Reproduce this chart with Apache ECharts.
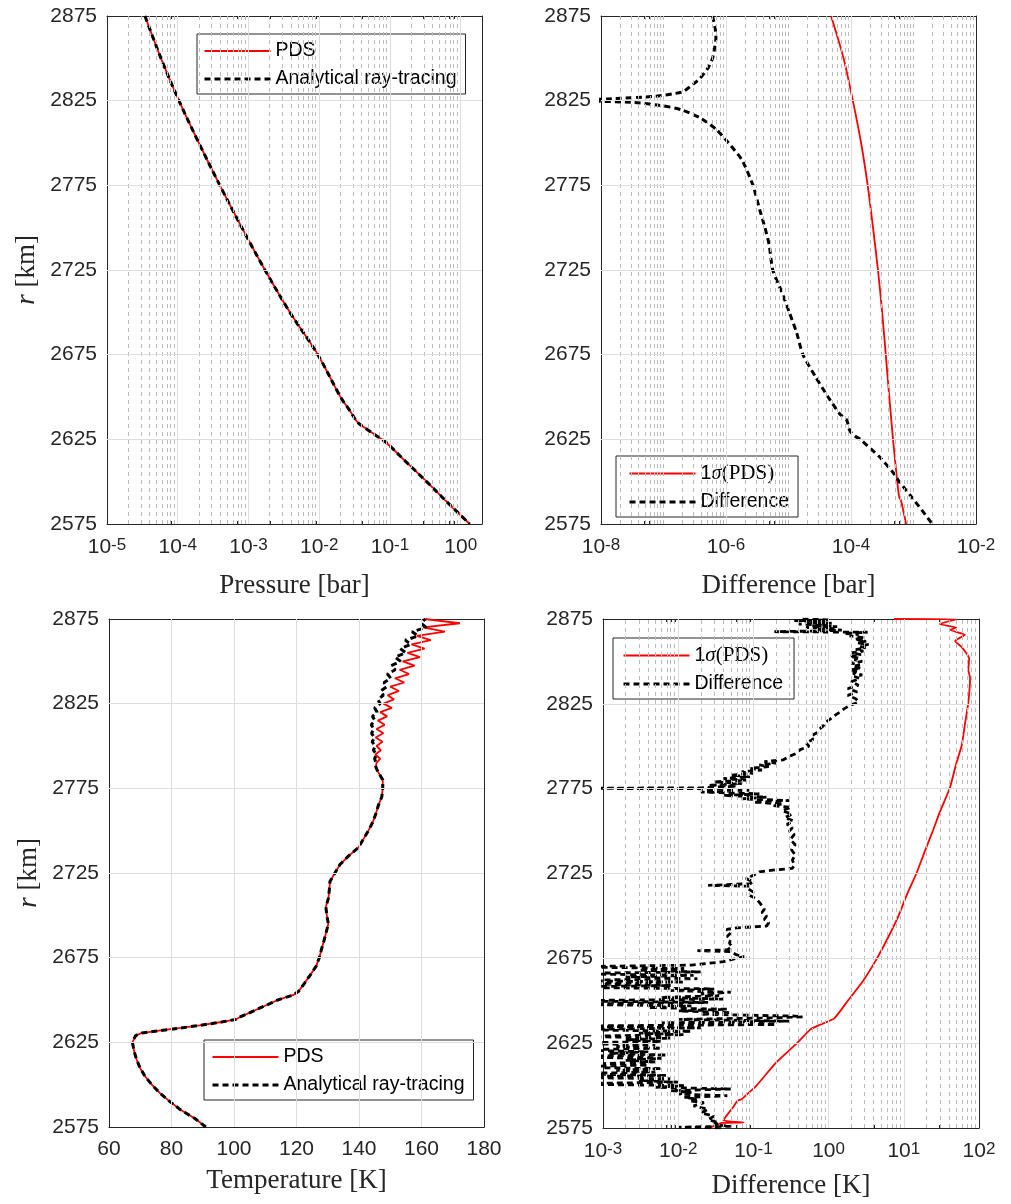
<!DOCTYPE html>
<html><head><meta charset="utf-8">
<script src="https://cdn.jsdelivr.net/npm/echarts@6/dist/echarts.min.js"></script>
<style>html,body{margin:0;padding:0;background:#fff}#c{width:1011px;height:1204px}</style>
</head><body><div id="c"></div><script>
// ---------------- tick values ----------------
const rTicks = [2575, 2625, 2675, 2725, 2775, 2825, 2875];
const pressureTicks = [1e-5, 1e-4, 1e-3, 1e-2, 1e-1, 1];
const diffBarTicks = [1e-8, 1e-6, 1e-4, 1e-2];
const tempTicks = [60, 80, 100, 120, 140, 160, 180];
const diffKTicks = [1e-3, 1e-2, 1e-1, 1, 10, 100];

// ---------------- data: [value, r(km)] ----------------
const pressurePDS = [[3.44e-5,2875],[5.8e-5,2850],[1.04e-4,2825],[1.99e-4,2800],[3.94e-4,2775],[8.07e-4,2750],[1.71e-3,2725],[3.85e-3,2700],[9.55e-3,2675],[0.020,2650],[0.027,2642],[0.035,2635],[0.047,2631],[0.065,2627],[0.089,2623],[0.166,2612],[0.33,2600],[0.64,2588],[1.34,2575]];
const pressureRay = [[3.44e-5,2875],[5.8e-5,2850],[1.04e-4,2825],[1.99e-4,2800],[3.94e-4,2775],[8.07e-4,2750],[1.71e-3,2725],[3.85e-3,2700],[9.55e-3,2675],[0.020,2650],[0.027,2642],[0.035,2635],[0.047,2631],[0.065,2627],[0.089,2623],[0.166,2612],[0.33,2600],[0.64,2588],[1.34,2575]];

const sigmaBar = [[4.8e-5,2875],[7.6e-5,2850],[1.07e-4,2825],[1.45e-4,2800],[1.85e-4,2775],[2.25e-4,2750],[2.7e-4,2725],[3.15e-4,2700],[3.6e-4,2675],[4.1e-4,2650],[4.7e-4,2625],[5.5e-4,2600],[5.9e-4,2591],[6.3e-4,2589],[7.6e-4,2575]];
const diffBar = [[6.1e-7,2875],[6.7e-7,2868],[6.9e-7,2862],[6.5e-7,2855],[6.1e-7,2850],[5.2e-7,2844.5],[3.8e-7,2838],[2.6e-7,2833],[1.95e-7,2830],[6.8e-8,2827.5],[1.3e-8,2826],[3e-9,2825.2],[3.2e-8,2824],[9.8e-8,2822],[1.95e-7,2819.6],[3.8e-7,2815],[7e-7,2808],[1.1e-6,2800],[1.8e-6,2790],[2.7e-6,2775],[3.5e-6,2760],[4.2e-6,2750],[4.9e-6,2740],[5.6e-6,2725],[7.8e-6,2712],[1.03e-5,2700],[1.35e-5,2688],[1.7e-5,2675],[2.7e-5,2662],[4.3e-5,2650],[6.6e-5,2640],[8.5e-5,2636.5],[9.6e-5,2630],[1.15e-4,2627],[1.4e-4,2625],[2.8e-4,2615],[4.8e-4,2605],[5.9e-4,2600],[9.8e-4,2590],[2.0e-3,2575]];

const tempPDS = [[91.0,2575],[87.5,2580],[83.0,2585],[79.5,2590],[76.3,2595],[73.7,2600],[71.5,2605],[69.9,2610],[68.8,2615],[68.0,2620],[67.5,2625],[68.5,2629],[70.5,2630.5],[76.5,2632],[83.0,2633.5],[89.0,2635],[96.0,2637],[100.5,2638.5],[102.0,2640],[108.0,2645],[114.0,2650],[119.0,2653],[120.6,2655],[122.6,2660],[124.5,2665],[126.3,2670],[127.3,2675],[128.0,2680],[128.8,2685],[129.5,2690],[130.2,2695],[129.7,2700],[129.4,2705],[130.2,2710],[130.5,2715],[130.7,2720],[132.3,2725],[133.9,2730],[136.6,2735],[139.8,2740],[141.4,2745],[143.0,2750],[144.4,2755],[145.4,2760],[146.2,2765],[147.3,2770],[147.6,2775],[147.6,2780],[146.0,2785],[145.4,2787.5],
 [145.6,2790],[146.8,2792.5],[145.2,2795],[147.0,2797.5],[145.6,2800],[147.5,2802.5],[145.3,2805],[147.8,2807.5],[145.6,2810],[148.2,2812.5],[146.0,2815],[149.0,2817.5],[146.8,2820],[150.5,2822.5],[147.8,2825],[151.2,2827.5],[149.2,2830],[152.8,2832.5],[150.0,2835],[154.5,2837.5],[151.5,2840],[156.0,2842.5],[153.0,2845],[157.8,2847.5],[154.0,2850],[159.5,2852.5],[155.5,2855],[161.0,2857.5],[156.8,2860],[163.0,2862.5],[158.5,2865],[167.5,2867.5],[160.5,2870],[172.3,2872.5],[161.0,2875]];
const tempRay = [[91.0,2575],[87.5,2580],[83.0,2585],[79.5,2590],[76.3,2595],[73.7,2600],[71.5,2605],[69.9,2610],[68.8,2615],[68.0,2620],[67.5,2625],[68.5,2629],[70.5,2630.5],[76.5,2632],[83.0,2633.5],[89.0,2635],[96.0,2637],[100.5,2638.5],[102.0,2640],[108.0,2645],[114.0,2650],[119.0,2653],[120.6,2655],[122.6,2660],[124.5,2665],[126.3,2670],[127.3,2675],[128.0,2680],[128.8,2685],[129.5,2690],[130.2,2695],[129.7,2700],[129.4,2705],[130.2,2710],[130.5,2715],[130.7,2720],[132.3,2725],[133.9,2730],[136.6,2735],[139.8,2740],[141.4,2745],[143.0,2750],[144.4,2755],[145.4,2760],[146.2,2765],[147.3,2770],[147.6,2775],[147.6,2780],[146.0,2785],[145.4,2787.5],
 [145.4,2790],[145.0,2792.5],[145.6,2795],[144.6,2797.5],[145.2,2800],[144.2,2802.5],[145.0,2805],[144.0,2807.5],[144.8,2810],[143.9,2812.5],[145.1,2815],[144.3,2817.5],[145.8,2820],[145.0,2822.5],[146.8,2825],[146.0,2827.5],[147.8,2830],[146.9,2832.5],[148.9,2835],[148.0,2837.5],[150.2,2840],[149.1,2842.5],[151.6,2845],[150.3,2847.5],[153.3,2850],[151.5,2852.5],[155.0,2855],[153.2,2857.5],[156.6,2860],[154.8,2862.5],[158.9,2865],[157.0,2867.5],[161.5,2870],[159.8,2872.5],[161.2,2875]];

const sigmaK = [[0.026,2575],[0.038,2578],[0.074,2578.3],[0.040,2579.5],[0.047,2584],[0.055,2588],[0.061,2591],[0.070,2592],[0.085,2595.4],[0.11,2600],[0.20,2613.5],[0.38,2625],[0.57,2633],[0.78,2636],[1.19,2639.6],[1.8,2650],[2.9,2662],[4.4,2675],[6.3,2688],[8.5,2700],[11.1,2713],[14.7,2725],[19,2738],[24.5,2750.5],[30,2761],[41,2775.5],[50,2790],[59,2800.6],[65,2813],[72,2825.6],[76,2840.3],[72,2845],[74,2851.6],[59,2858.4],[48,2862],[65,2865.7],[41,2868.6],[50,2870],[30,2872],[50,2874.8],[7.4,2875]];
const diffK = [[0.45,2875],[1.0,2874.5],[0.35,2874],[0.9,2873.5],[0.55,2873],[1.1,2872.5],[0.4,2872],[0.95,2871.5],[0.6,2871],[1.3,2870.5],[0.5,2870],[1.2,2869.5],[0.7,2869],[1.5,2868.5],[0.8,2868],[0.19,2867.5],[3.3,2867.2],[1.6,2866.5],[2.5,2866],[1.9,2865],[3.0,2864],[2.2,2863],[3.2,2862],[2.4,2861],[3.4,2860],[2.6,2859],[3.1,2858],[2.3,2857],[2.9,2856],[2.0,2855],[2.7,2854],[1.9,2853],[2.6,2852],[2.2,2851],[2.8,2850],[2.0,2849],[2.6,2848],[2.1,2847],[2.7,2846],[1.9,2845],[2.5,2844],[2.1,2843],[2.8,2842],[2.2,2841],[2.6,2840],[2.0,2838],[2.5,2836],[1.8,2834],[2.4,2832],[1.8,2830],[2.3,2828],[2.5,2826],[1.9,2824],[1.6,2822],[1.4,2820],[1.2,2818],[1.05,2816],[0.9,2814],[0.85,2812],[0.75,2810],[0.7,2808],[0.58,2806],[0.62,2804],[0.5,2802],[0.55,2800],[0.42,2798],[0.38,2796],[0.3,2794],[0.25,2792],[0.14,2791],[0.2,2790],[0.12,2789],[0.16,2788],[0.09,2787],[0.13,2786],[0.07,2785],[0.1,2784],[0.05,2783],[0.09,2782],[0.04,2781],[0.08,2780],[0.03,2779],[0.07,2778],[0.025,2777],[0.06,2776.5],[0.02,2775.5],[0.0002,2775.2],[0.017,2775],[0.09,2774],[0.02,2773],[0.12,2772],[0.04,2771],[0.15,2770],[0.07,2769],[0.3,2768],[0.1,2767],[0.25,2766],[0.18,2765],[0.32,2764],[0.24,2762],[0.33,2760],[0.26,2758],[0.34,2756],[0.28,2754],[0.33,2752],[0.3,2750],[0.35,2748],[0.31,2745],[0.36,2742],[0.32,2739],[0.36,2736],[0.33,2733],[0.35,2730],[0.33,2728],[0.18,2727],[0.12,2726],[0.1,2724],[0.08,2722],[0.1,2720],[0.09,2719],[0.025,2718],[0.09,2717.5],[0.085,2716],[0.1,2714],[0.09,2712],[0.11,2710],[0.12,2708],[0.13,2706],[0.14,2704],[0.13,2702],[0.15,2700],[0.14,2698],[0.16,2696],[0.15,2694],[0.06,2693],[0.044,2692],[0.05,2690],[0.045,2688],[0.05,2686],[0.048,2684],[0.052,2682],[0.045,2680],[0.018,2679.5],[0.05,2679],[0.06,2677],[0.075,2676],[0.06,2675],[0.04,2673],[0.015,2671],[0.0003,2670],[0.012,2669],[0.003,2668],[0.02,2667],[0.0002,2666],[0.016,2665],[0.002,2664],[0.018,2663],[0.0003,2662],[0.012,2661],[0.0004,2660],[0.008,2659],[0.0002,2658],[0.03,2657],[0.008,2656],[0.05,2655],[0.02,2654],[0.035,2653],[0.006,2652],[0.04,2651],[0.0003,2650],[0.025,2649],[0.0002,2648],[0.015,2647],[0.004,2646],[0.045,2645],[0.01,2644],[0.05,2643],[0.02,2642],[0.35,2641],[0.45,2640.5],[0.2,2640],[0.01,2639],[0.3,2638],[0.006,2637],[0.2,2636],[0.0002,2635],[0.02,2634],[0.0003,2633],[0.015,2632],[0.003,2631],[0.012,2630],[0.0004,2629],[0.008,2628],[0.002,2627],[0.006,2626],[0.0002,2625],[0.005,2624],[0.0015,2623],[0.006,2622],[0.0003,2621],[0.004,2620],[0.0012,2619],[0.007,2618],[0.0002,2617],[0.006,2616],[0.002,2615],[0.005,2614],[0.001,2613],[0.004,2612],[0.0002,2611],[0.006,2610],[0.0015,2609],[0.005,2608],[0.0003,2607],[0.007,2606],[0.0002,2605],[0.008,2604],[0.003,2603],[0.01,2602],[0.0002,2601],[0.012,2600],[0.005,2599],[0.05,2598],[0.008,2597],[0.015,2596],[0.01,2595],[0.045,2594],[0.012,2593],[0.018,2592],[0.014,2591],[0.022,2590],[0.016,2588],[0.025,2586],[0.02,2584],[0.03,2582],[0.025,2580],[0.035,2578],[0.03,2577],[0.05,2576],[0.01,2575.5],[0.04,2575]];

// ---------------- styling helpers ----------------
const SANS = '"Liberation Sans", Arial, Helvetica, sans-serif';
const SERIF = '"Liberation Serif", "Times New Roman", serif';
const AX = '#262626';
const MAJOR_GRID = '#dedede';
const MINOR_GRID = '#bcbcbc';
const LBL = 21;

// log-decade axes are drawn as value axes over log10(value)
const lg = v => Math.log10(v);
function logMinors(n0, n1, extraDecades) {
  const out = [];
  for (let n = n0; n <= n1; n++) for (let k = 2; k <= 9; k++) out.push(n + Math.log10(k));
  (extraDecades || []).forEach(n => out.push(n));
  return out;
}
function supLabel(v) {
  return '{b|10}{s|' + Math.round(v) + '}';
}
const supRich = {
  b: {fontSize: LBL, fontFamily: SANS, color: AX, lineHeight: LBL, padding: [6, 0, 0, 0], verticalAlign: 'bottom'},
  s: {fontSize: 17, fontFamily: SANS, color: AX, lineHeight: 17, verticalAlign: 'top'}
};
const nameStyle = {
  fontFamily: SERIF, fontSize: 27, color: AX,
  rich: {i: {fontFamily: SERIF, fontSize: 27, fontStyle: 'italic', color: AX}, n: {fontFamily: SERIF, fontSize: 27, color: AX}}
};

const grid = [], xAxis = [], yAxis = [], series = [], legend = [];

function panel(cfg) {
  const gi = grid.length;
  grid.push({left: cfg.left, top: cfg.top, width: cfg.width, height: cfg.height, containLabel: false});
  const isLog = cfg.log;
  const tx = isLog ? lg : (v => v);
  const xMin = tx(cfg.xMin), xMax = tx(cfg.xMax);
  const ticks = cfg.xTicks.map(tx);
  const xc = {gridIndex: gi, type: 'value', min: xMin, max: xMax, splitLine: {show: false},
    axisLine: {show: true, onZero: false, lineStyle: {color: AX, width: 1}}, silent: true, axisPointer: {show: false}};
  const xMain = xAxis.length;
  xAxis.push(Object.assign({}, xc, {position: 'bottom', name: cfg.xName, nameLocation: 'middle', nameGap: cfg.xNameGap, nameTextStyle: nameStyle,
    axisTick: {show: true, inside: true, length: 6, customValues: ticks, lineStyle: {color: AX}},
    axisLabel: {show: true, customValues: ticks, margin: isLog ? 13 : 12, color: AX, fontSize: LBL, fontFamily: SANS,
      formatter: isLog ? supLabel : (v => String(v)), rich: isLog ? supRich : {}}}));
  xAxis.push(Object.assign({}, xc, {position: 'top', axisTick: {show: true, inside: true, length: 6, customValues: ticks, lineStyle: {color: AX}}, axisLabel: {show: false}}));
  if (cfg.xMinor) {
    ['bottom', 'top'].forEach(p => xAxis.push(Object.assign({}, xc, {position: p, axisLine: {show: false},
      axisTick: {show: true, inside: true, length: 3, customValues: cfg.xMinor.filter(v => v > xMin && v < xMax), lineStyle: {color: AX}}, axisLabel: {show: false}})));
  }
  const yc = {gridIndex: gi, type: 'value', min: 2575, max: 2875, splitLine: {show: false},
    axisLine: {show: true, onZero: false, lineStyle: {color: AX, width: 1}}, silent: true, axisPointer: {show: false}};
  const yMain = yAxis.length;
  yAxis.push(Object.assign({}, yc, {position: 'left', name: cfg.yName || '', nameLocation: 'middle', nameGap: cfg.yNameGap || 60, nameTextStyle: nameStyle,
    axisTick: {show: true, inside: true, length: 6, customValues: rTicks, lineStyle: {color: AX}},
    axisLabel: {show: true, customValues: rTicks, margin: 10, color: AX, fontSize: LBL, fontFamily: SANS, formatter: v => String(v)}}));
  yAxis.push(Object.assign({}, yc, {position: 'right', axisTick: {show: true, inside: true, length: 6, customValues: rTicks, lineStyle: {color: AX}}, axisLabel: {show: false}}));

  // grid lines
  const gl = [];
  const inside = v => v > xMin + 1e-9 && v < xMax - 1e-9;
  (cfg.xMinor || []).forEach(v => { if (inside(v)) gl.push({xAxis: v, lineStyle: {color: MINOR_GRID, width: 1, type: [4, 4]}}); });
  ticks.forEach(v => { if (inside(v)) gl.push({xAxis: v, lineStyle: {color: MAJOR_GRID, width: 1, type: 'solid'}}); });
  rTicks.forEach(v => { if (v > 2575 && v < 2875) gl.push({yAxis: v, lineStyle: {color: MAJOR_GRID, width: 1, type: 'solid'}}); });
  series.push({type: 'line', xAxisIndex: xMain, yAxisIndex: yMain, data: [], silent: true, z: 1, animation: false,
    markLine: {silent: true, symbol: ['none', 'none'], label: {show: false}, animation: false, emphasis: {disabled: true}, data: gl}});

  cfg.series.forEach((s, i) => series.push({
    type: 'line', name: s.name, xAxisIndex: xMain, yAxisIndex: yMain, data: s.data.map(d => [tx(d[0]), d[1]]),
    symbol: 'none', showSymbol: false, clip: true, animation: false, silent: true, z: 3 + i, smooth: s.smooth || false,
    lineStyle: {color: s.color, width: s.width, type: s.dash || 'solid'}, itemStyle: {color: s.color}
  }));

  legend.push(Object.assign({
    orient: 'vertical',
    data: cfg.series.map(s => ({name: s.name, lineStyle: {width: s.dash ? 3 : 2, type: s.dash || 'solid', color: s.color}})),
    selectedMode: false,
    itemWidth: 66, itemHeight: 14, itemGap: 8,
    borderColor: AX, borderWidth: 1, backgroundColor: '#fff', borderRadius: 0,
    itemStyle: {opacity: 0},
    formatter: n => n === '1σ(PDS)' ? '{one|1}{sig|σ}{par|(PDS)}' : n,
    textStyle: {fontSize: 19.5, fontFamily: SANS, color: '#000',
      rich: {one: {fontSize: 19.5, fontFamily: SANS, color: '#000'},
             sig: {fontSize: 21, fontFamily: SERIF, fontStyle: 'italic', color: '#000'},
             par: {fontSize: 21, fontFamily: SERIF, color: '#000'}}}
  }, cfg.legend));
}

const RED = '#ff0000', BLK = '#000000';

panel({left: 107, top: 16, width: 375, height: 508, log: true, xMin: 1e-5, xMax: 2,
  xTicks: pressureTicks, xMinor: logMinors(-5, 0),
  xName: 'Pressure [bar]', xNameGap: 48, yName: '{i|r} {n|[km]}', yNameGap: 67,
  series: [{name: 'PDS', data: pressurePDS, color: RED, width: 1.8, smooth: 0.35},
           {name: 'Analytical ray-tracing', data: pressureRay, color: BLK, width: 3, dash: [6, 4], smooth: 0.35}],
  legend: {left: 197, top: 34, padding: [7, 9, 5, 6]}});

panel({left: 601, top: 16, width: 375, height: 508, log: true, xMin: 1e-8, xMax: 1e-2,
  xTicks: diffBarTicks, xMinor: logMinors(-8, -3, [-7, -5, -3]),
  xName: 'Difference [bar]', xNameGap: 48,
  series: [{name: '1σ(PDS)', data: sigmaBar, color: RED, width: 1.8, smooth: 0.3},
           {name: 'Difference', data: diffBar, color: BLK, width: 3, dash: [6, 4], smooth: 0.2}],
  legend: {left: 616, top: 456, padding: [7, 9, 5, 12]}});

panel({left: 109, top: 619, width: 375, height: 508, log: false, xMin: 60, xMax: 180,
  xTicks: tempTicks,
  xName: 'Temperature [K]', xNameGap: 40, yName: '{i|r} {n|[km]}', yNameGap: 67,
  series: [{name: 'PDS', data: tempPDS, color: RED, width: 1.8},
           {name: 'Analytical ray-tracing', data: tempRay, color: BLK, width: 3, dash: [6, 4]}],
  legend: {left: 204, top: 1040, padding: [7, 9, 5, 7]}});

panel({left: 603, top: 619, width: 376, height: 509, log: true, xMin: 1e-3, xMax: 100,
  xTicks: diffKTicks, xMinor: logMinors(-3, 1),
  xName: 'Difference [K]', xNameGap: 44,
  series: [{name: '1σ(PDS)', data: sigmaK, color: RED, width: 1.8, smooth: 0.15},
           {name: 'Difference', data: diffK, color: BLK, width: 2.8, dash: [6, 4]}],
  legend: {left: 613, top: 638, padding: [7, 11, 5, 9]}});

const chart = echarts.init(document.getElementById('c'), null, {renderer: 'canvas'});
chart.setOption({backgroundColor: '#ffffff', animation: false, grid, xAxis, yAxis, series, legend, tooltip: {show: false}});
</script></body></html>
